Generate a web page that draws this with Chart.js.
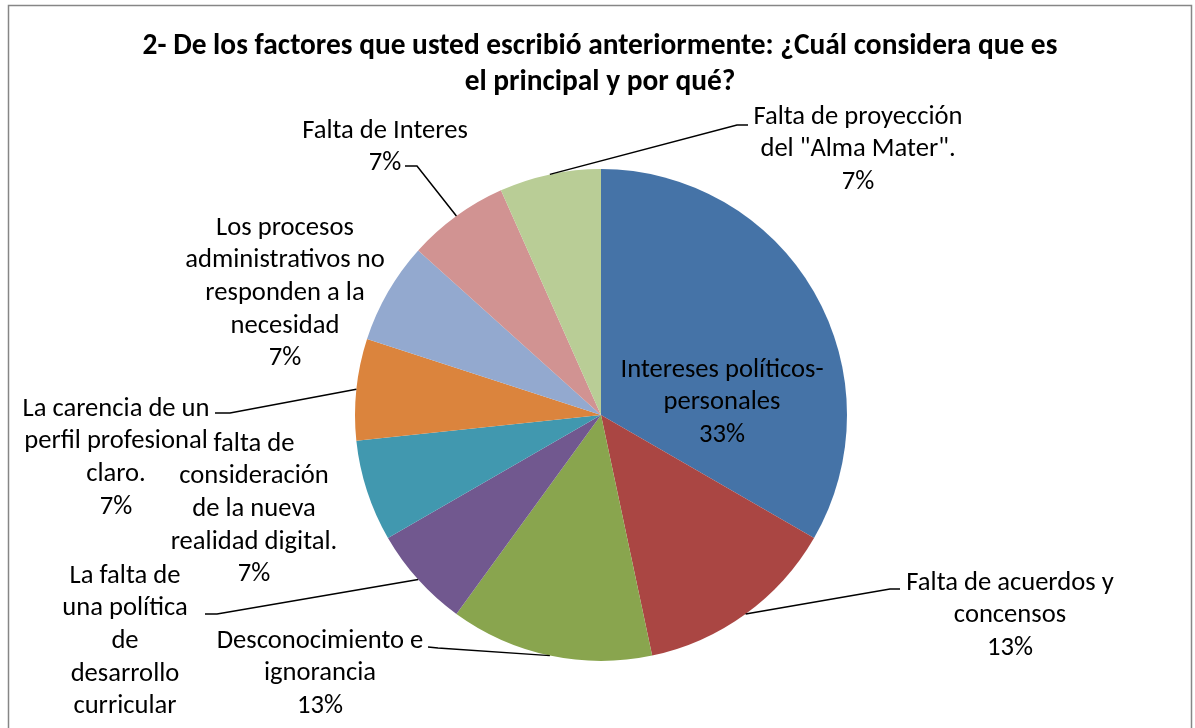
<!DOCTYPE html>
<html>
<head>
<meta charset="utf-8">
<script src="https://cdn.jsdelivr.net/npm/chart.js@4/dist/chart.umd.min.js"></script>
<style>
  html, body { margin: 0; padding: 0; background: #fff; overflow: hidden; }
  #grafico { display: block; }
</style>
</head>
<body>
<canvas id="grafico" width="1195" height="770"></canvas>
<script>
// datos (15 respuestas)
const categorias = [
  "Intereses políticos-personales",
  "Falta de acuerdos y concensos",
  "Desconocimiento e ignorancia",
  "La falta de una política de desarrollo curricular",
  "falta de consideración de la nueva realidad digital.",
  "La carencia de un perfil profesional claro.",
  "Los procesos administrativos no responden a la necesidad",
  "Falta de Interes",
  "Falta de proyección del \"Alma Mater\"."
];
const respuestas = [5, 2, 2, 1, 1, 1, 1, 1, 1];
const colores = ["#4573A7", "#AA4643", "#89A54E", "#71588F", "#4198AF", "#DB843D", "#93A9CF", "#D19392", "#B9CD96"];
const titulo = ["2- De los factores que usted escribió anteriormente: ¿Cuál considera que es", "el principal y por qué?"];

// como se corta cada etiqueta en lineas
const lineas = [
  ["Intereses políticos-", "personales"],
  ["Falta de acuerdos y", "concensos"],
  ["Desconocimiento e", "ignorancia"],
  ["La falta de", "una política", "de", "desarrollo", "curricular"],
  ["falta de", "consideración", "de la nueva", "realidad digital."],
  ["La carencia de un", "perfil profesional", "claro."],
  ["Los procesos", "administrativos no", "responden a la", "necesidad"],
  ["Falta de Interes"],
  ["Falta de proyección", "del \"Alma Mater\"."]
];
// posicion de cada etiqueta: centro x, y de la primera linea, guia [x texto, y, x codo, y]
const posEtiquetas = [
  { x: 722, y: 370, guia: null },
  { x: 1010, y: 583, guia: [900, 589, 890, 589] },
  { x: 320, y: 641, guia: [428, 647, 438, 648] },
  { x: 125, y: 576, guia: [205, 614, 217, 614] },
  { x: 254, y: 444, guia: null },
  { x: 116, y: 409, guia: [215, 413, 230, 413] },
  { x: 285, y: 228, guia: null },
  { x: 385, y: 131, guia: [405, 166, 417, 166] },
  { x: 858, y: 117, guia: [748, 125, 737, 125] }
];

const fuente = "Carlito, Lato, 'Open Sans', sans-serif";
const altoLinea = 32.7;

const etiquetasPlugin = {
  id: "etiquetas",
  beforeDraw(chart) {
    const ctx = chart.ctx;
    ctx.save();
    ctx.fillStyle = "#fff";
    ctx.fillRect(0, 0, chart.width, chart.height);
    ctx.restore();
  },
  afterDraw(chart) {
    const ctx = chart.ctx;
    const total = respuestas.reduce((a, b) => a + b, 0);
    ctx.save();

    // marco
    ctx.strokeStyle = "#868686";
    ctx.lineWidth = 1.5;
    ctx.strokeRect(8.5, 5.5, 1183, 755);

    // titulo
    ctx.fillStyle = "#000";
    ctx.textAlign = "center";
    ctx.textBaseline = "middle";
    ctx.font = "bold 29.4px " + fuente;
    titulo.forEach((t, i) => ctx.fillText(t, 600, 47 + i * 36));

    // guias
    const arcos = chart.getDatasetMeta(0).data;
    ctx.strokeStyle = "#000";
    ctx.lineWidth = 1.5;
    posEtiquetas.forEach((p, i) => {
      if (!p.guia) return;
      const a = arcos[i].getProps(["x", "y", "startAngle", "endAngle", "outerRadius"], true);
      const mid = (a.startAngle + a.endAngle) / 2;
      const ax = a.x + Math.cos(mid) * a.outerRadius;
      const ay = a.y + Math.sin(mid) * a.outerRadius;
      ctx.beginPath();
      ctx.moveTo(p.guia[0], p.guia[1]);
      ctx.lineTo(p.guia[2], p.guia[3]);
      ctx.lineTo(ax, ay);
      ctx.stroke();
    });

    // textos
    ctx.font = "26.6px " + fuente;
    ctx.fillStyle = "#000";
    posEtiquetas.forEach((p, i) => {
      const pct = Math.round(respuestas[i] / total * 100) + "%";
      const ls = lineas[i].concat([pct]);
      ls.forEach((t, j) => ctx.fillText(t, p.x, p.y + j * (j === 5 ? altoLinea + 0.8 : altoLinea)));
    });
    ctx.restore();
  }
};

new Chart(document.getElementById("grafico"), {
  type: "pie",
  data: {
    labels: categorias,
    datasets: [{
      data: respuestas,
      backgroundColor: colores,
      borderWidth: 0
    }]
  },
  options: {
    responsive: false,
    animation: false,
    layout: { padding: { left: 355, right: 348, top: 169, bottom: 109 } },
    plugins: {
      legend: { display: false },
      tooltip: { enabled: false }
    }
  },
  plugins: [etiquetasPlugin]
});
</script>
</body>
</html>
